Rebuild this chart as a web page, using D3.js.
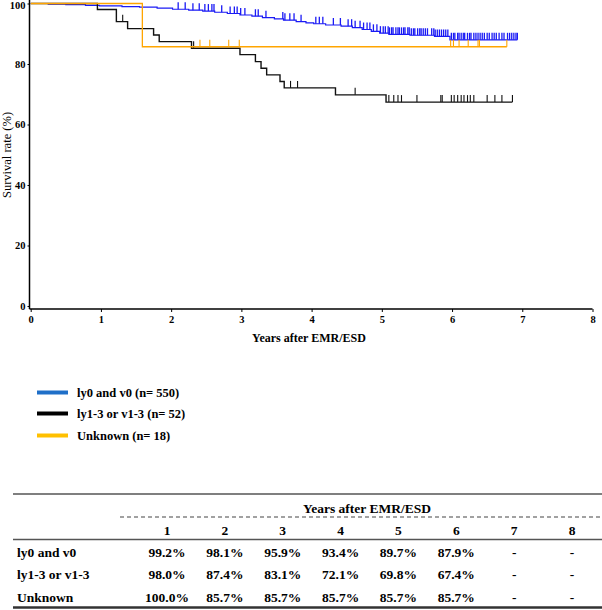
<!DOCTYPE html>
<html><head><meta charset="utf-8">
<script src="https://cdn.jsdelivr.net/npm/d3@7"></script>
<style>body{margin:0;background:#fff}svg{display:block}svg text{font-family:"Liberation Serif","DejaVu Serif",serif}</style>
</head><body>
<script>
// ---------- DATA ----------
const seriesNames = ["ly0 and v0 (n= 550)", "ly1-3 or v1-3 (n= 52)", "Unknown (n= 18)"];
const xTicks = [0,1,2,3,4,5,6,7,8];
const yTicks = [0,20,40,60,80,100];
// Kaplan-Meier steps: [time (years), survival %]
const blueSteps = [[0,100],[0.25,99.8],[0.5,99.6],[0.78,99.4],[0.98,99.2],[1.3,99.0],[1.55,98.8],[1.8,98.5],[2.02,98.1],[2.25,97.8],[2.45,97.5],[2.62,97.1],[2.8,96.7],[2.98,96.2],[3.15,95.8],[3.3,95.3],[3.47,94.9],[3.6,94.5],[3.78,94.0],[3.92,93.6],[4.03,93.3],[4.2,92.9],[4.42,92.5],[4.58,92.0],[4.72,91.4],[4.85,90.8],[4.97,90.2],[5.1,89.8],[5.4,89.5],[5.75,89.1],[5.97,88.0]];
const blueEnd = 6.93;
const blueCensor = [2.1,2.2,2.31,2.4,2.48,2.53,2.58,2.61,2.72,2.84,2.9,2.94,2.99,3.05,3.2,3.24,3.35,3.59,3.62,3.69,3.75,3.85,4.06,4.11,4.16,4.31,4.41,4.52,4.57,4.62,4.69,4.74,4.79,4.83,4.88,4.93,4.98,5.02,5.05,5.09,5.11,5.14,5.16,5.2,5.23,5.25,5.28,5.31,5.33,5.37,5.39,5.42,5.45,5.47,5.51,5.54,5.56,5.59,5.62,5.65,5.71,5.74,5.76,5.79,5.82,5.85,5.88,5.91,5.94,5.99,6.02,6.04,6.08,6.1,6.13,6.16,6.18,6.22,6.25,6.27,6.31,6.34,6.37,6.4,6.43,6.46,6.5,6.53,6.57,6.6,6.63,6.67,6.71,6.74,6.79,6.82,6.85,6.88,6.91,6.93];
const blackSteps = [[0,100],[0.95,98.0],[1.22,94.0],[1.38,91.7],[1.75,89.6],[1.83,87.4],[2.29,85.2],[2.98,83.1],[3.2,80.8],[3.28,78.6],[3.36,76.4],[3.55,74.2],[3.61,72.1],[4.34,69.8],[5.06,67.4]];
const blackEnd = 6.86;
const blackCensor = [1.31,2.32,3.7,3.8,4.62,5.1,5.17,5.23,5.28,5.5,5.84,5.86,5.99,6.03,6.08,6.13,6.17,6.22,6.26,6.31,6.5,6.61,6.71,6.86];
const orangeSteps = [[0,100],[1.59,85.7]];
const orangeEnd = 6.78;
const orangeCensor = [2.41,2.55,2.82,2.97,5.98,6.02,6.1,6.23,6.37,6.39,6.78];
// table
const tableYears = ["1","2","3","4","5","6","7","8"];
const tableRowNames = ["ly0 and v0","ly1-3 or v1-3","Unknown"];
const tableRow1 = ["99.2%","98.1%","95.9%","93.4%","89.7%","87.9%","-","-"];
const tableRow2 = ["98.0%","87.4%","83.1%","72.1%","69.8%","67.4%","-","-"];
const tableRow3 = ["100.0%","85.7%","85.7%","85.7%","85.7%","85.7%","-","-"];

// ---------- DRAW ----------
const W = 602, H = 610;
const svg = d3.select("body").append("svg").attr("width", W).attr("height", H);
const serif = "Liberation Serif";

const x = d3.scaleLinear().domain([0,8]).range([30.7,592.5]);
const y = d3.scaleLinear().domain([0,100]).range([306,3.5]);
const axisY = 309;

// axes
const gx = svg.append("g").attr("transform", `translate(0,${axisY})`)
  .call(d3.axisBottom(x).tickValues(xTicks).tickSize(3).tickPadding(4));
gx.select(".domain").remove();
gx.selectAll("text").attr("font-family", serif).attr("font-size", 10.5).attr("font-weight","bold").attr("fill","#000");
gx.selectAll("line").attr("stroke","#000");
svg.append("line").attr("x1", 29.5).attr("x2", x(8)).attr("y1", axisY).attr("y2", axisY).attr("stroke","#000").attr("stroke-width",1.5);

const gy = svg.append("g").attr("transform", `translate(29.5,0)`)
  .call(d3.axisLeft(y).tickValues(yTicks).tickSize(2).tickPadding(2));
gy.select(".domain").remove();
gy.selectAll("text").attr("font-family", serif).attr("font-size", 10.5).attr("font-weight","bold").attr("fill","#000")
  .attr("dy", d => d === 100 ? "0.45em" : "0.32em");
gy.selectAll("line").attr("stroke","#000");
svg.append("line").attr("x1", 29.5).attr("x2", 29.5).attr("y1", 0).attr("y2", axisY).attr("stroke","#000").attr("stroke-width",1.5);

svg.append("text").attr("x", 309).attr("y", 342).attr("text-anchor","middle")
  .attr("font-family", serif).attr("font-size", 12).attr("font-weight","bold").text("Years after EMR/ESD");
svg.append("text").attr("transform","translate(11,155) rotate(-90)").attr("text-anchor","middle")
  .attr("font-family", serif).attr("font-size", 12.5).text("Survival rate (%)");

// curves
function stepPath(steps, end) {
  const pts = steps.concat([[end, steps[steps.length-1][1]]]);
  return d3.line().x(d => x(d[0])).y(d => y(d[1])).curve(d3.curveStepAfter)(pts);
}
function levelAt(steps, t) {
  let v = steps[0][1];
  for (const s of steps) if (s[0] <= t) v = s[1];
  return v;
}
function drawCurve(steps, end, censor, color, lw, tw) {
  const g = svg.append("g");
  g.append("path").attr("d", stepPath(steps, end)).attr("fill","none").attr("stroke", color).attr("stroke-width", lw);
  g.selectAll("line").data(censor).join("line")
    .attr("x1", d => x(d)).attr("x2", d => x(d))
    .attr("y1", d => y(levelAt(steps, d))).attr("y2", d => y(levelAt(steps, d)) - 7)
    .attr("stroke", color).attr("stroke-width", tw);
}
drawCurve(blueSteps, blueEnd, blueCensor, "#1a1af5", 1.2, 1.3);
drawCurve(blackSteps, blackEnd, blackCensor, "#111", 1.4, 1.1);
drawCurve(orangeSteps, orangeEnd, orangeCensor, "#ffa500", 1.3, 1.1);

// legend
const legColors = ["#1f6fc8","#000","#ffc000"];
const legY = [392.5, 413.5, 435.5];
seriesNames.forEach((n,i) => {
  svg.append("line").attr("x1", 37).attr("x2", 68).attr("y1", legY[i]).attr("y2", legY[i])
    .attr("stroke", legColors[i]).attr("stroke-width", 4);
  svg.append("text").attr("x", 77).attr("y", legY[i] + 4.5).attr("font-family", serif)
    .attr("font-size", 12.5).attr("font-weight","bold").text(n);
});

// table
const colX = d3.scalePoint().domain(tableYears).range([167, 572]);
svg.append("line").attr("x1",13).attr("x2",602).attr("y1",494).attr("y2",494).attr("stroke","#555").attr("stroke-width",1.5);
svg.append("text").attr("x",367).attr("y",512.5).attr("text-anchor","middle").attr("font-family",serif)
  .attr("font-size",13.5).attr("font-weight","bold").text("Years after EMR/ESD");
svg.append("line").attr("x1",120).attr("x2",602).attr("y1",517).attr("y2",517).attr("stroke","#444").attr("stroke-width",1.2).attr("stroke-dasharray","4,3");
svg.selectAll("text.yr").data(tableYears).join("text").attr("class","yr")
  .attr("x", d => colX(d)).attr("y", 535).attr("text-anchor","middle").attr("font-family",serif)
  .attr("font-size",13.5).attr("font-weight","bold").text(d => d);
svg.append("line").attr("x1",13).attr("x2",602).attr("y1",539.5).attr("y2",539.5).attr("stroke","#555").attr("stroke-width",1.5);
const rows = [tableRow1, tableRow2, tableRow3];
const rowY = [556.5, 579, 601.5];
rows.forEach((r,i) => {
  svg.append("text").attr("x",17).attr("y",rowY[i]).attr("font-family",serif).attr("font-size",13.5)
    .attr("font-weight","bold").text(tableRowNames[i]);
  svg.selectAll(null).data(r).join("text")
    .attr("x", (d,j) => colX(tableYears[j])).attr("y", rowY[i]).attr("text-anchor","middle")
    .attr("font-family",serif).attr("font-size",13.5).attr("font-weight","bold").text(d => d);
});
svg.append("line").attr("x1",13).attr("x2",602).attr("y1",607.5).attr("y2",607.5).attr("stroke","#333").attr("stroke-width",2.5);
</script>
</body></html>
